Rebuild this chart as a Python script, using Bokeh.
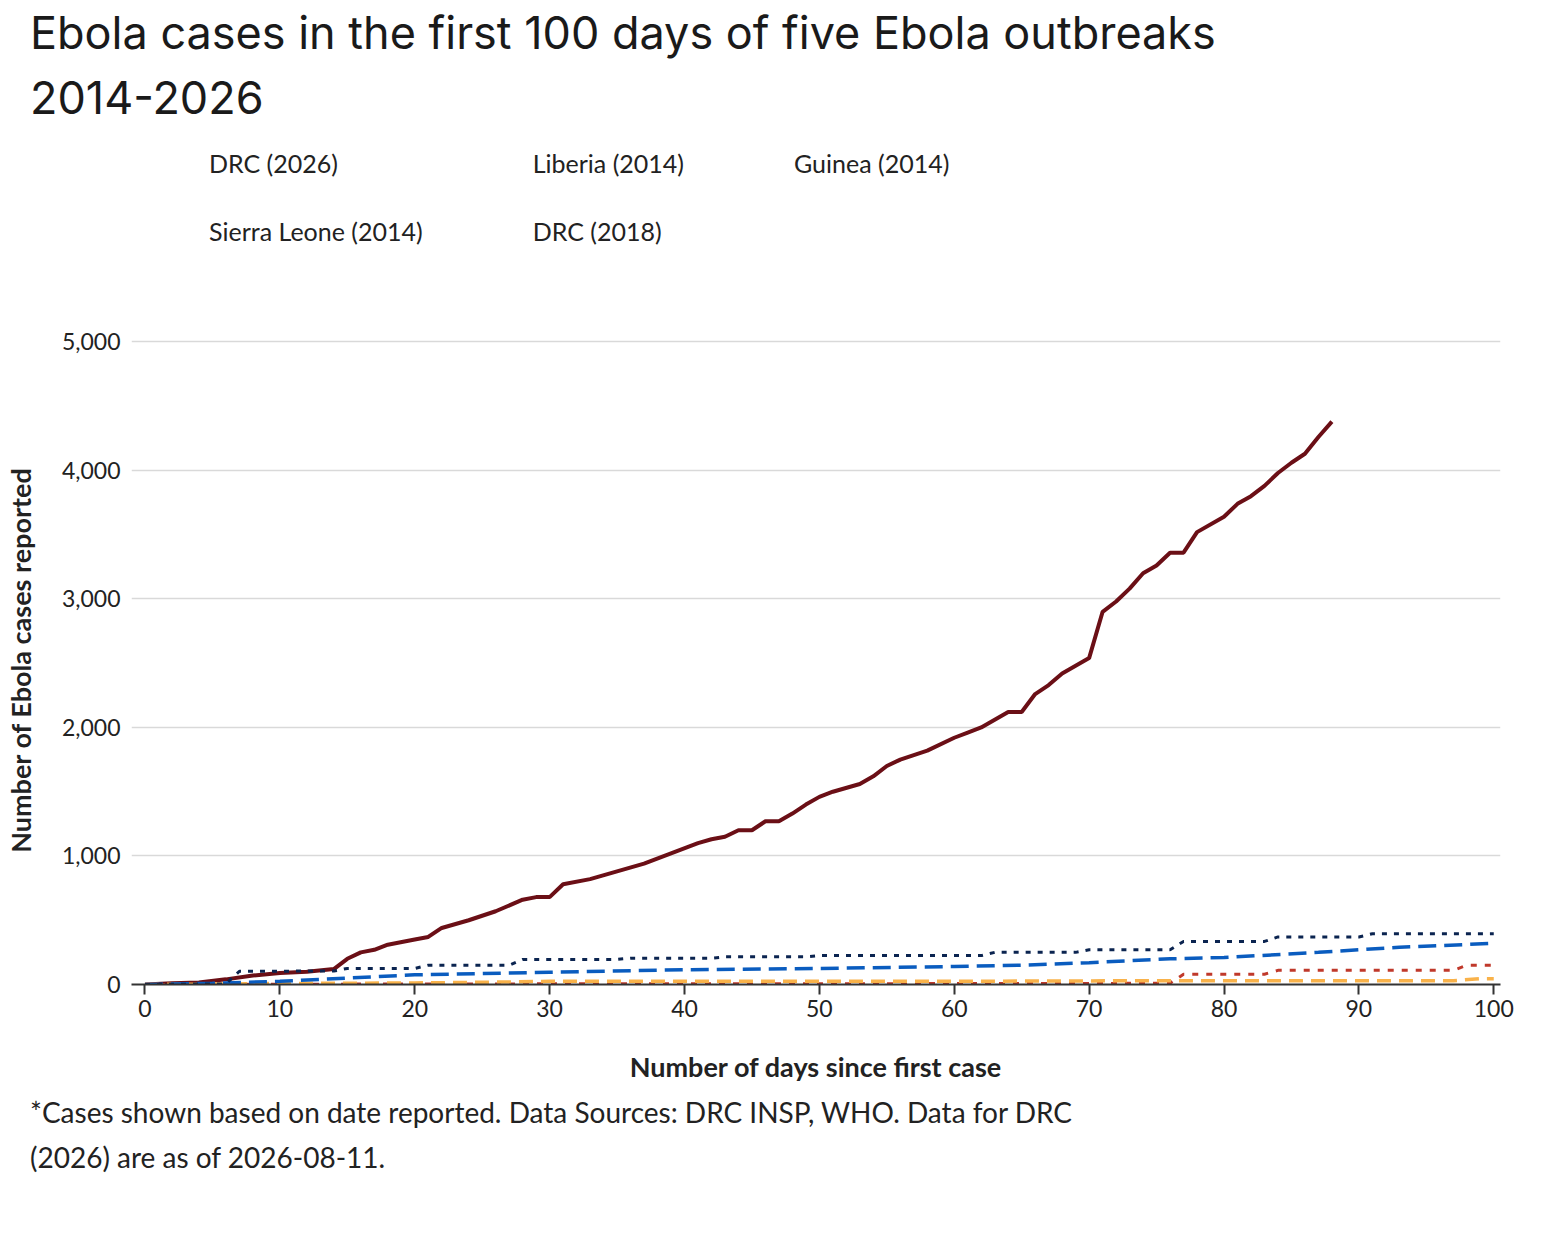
from bokeh.plotting import figure
from bokeh.models import Legend, LegendItem, NumeralTickFormatter, FixedTicker, Div
from bokeh.layouts import column
from bokeh.embed import file_html
from bokeh.resources import INLINE

drc26_days = [0,2,4,6,8,10,12,14,15,16,17,18,20,21,22,24,26,28,29,30,31,33,35,37,39,41,42,43,44,45,46,47,48,49,50,51,53,54,55,56,58,60,61,62,63,64,65,66,67,68,69,70,71,72,73,74,75,76,77,78,80,81,82,83,84,85,86,87,88]
drc26_cases = [0,10,15,40,70,90,100,120,200,250,270,310,350,370,440,500,570,660,680,680,780,820,880,940,1020,1100,1130,1150,1200,1200,1270,1270,1330,1400,1460,1500,1560,1620,1700,1750,1820,1920,1960,2000,2060,2120,2120,2260,2330,2420,2480,2540,2900,2980,3080,3200,3260,3360,3360,3520,3640,3740,3800,3880,3980,4060,4130,4260,4380]
sl_days = [0,10,20,30,40,50,60,70,76,77,83,84,97,98,100]
sl_cases = [0,2,4,5,6,6,7,8,10,80,80,110,110,150,150]
lib_days = [0,5,10,20,27,30,40,50,60,70,80,90,97,99,100]
lib_cases = [0,3,8,12,20,25,25,25,25,28,30,30,30,45,45]
drc18_days = [0,5,10,15,20,30,40,50,60,65,70,76,80,87,93,100]
drc18_cases = [0,10,25,50,75,95,115,125,140,150,170,200,210,250,290,320]
gui_days = [0,6,7,14,15,20,21,27,28,35,36,42,43,49,50,62,63,69,70,76,77,83,84,90,91,100]
gui_cases = [0,5,103,105,125,125,150,150,195,195,205,205,215,215,225,225,250,250,270,270,335,335,370,370,395,395]

series_labels = ["DRC (2026)", "Sierra Leone (2014)", "Liberia (2014)", "DRC (2018)", "Guinea (2014)"]
styles = [
    dict(line_color="#6b0f16", line_width=4),
    dict(line_color="#c0392b", line_width=3, line_dash="6 8"),
    dict(line_color="#f9b24a", line_width=3.5, line_dash="14 8"),
    dict(line_color="#0a5cbf", line_width=3.5, line_dash="18 8"),
    dict(line_color="#0b2450", line_width=3, line_dash="5 7"),
]
data = [(drc26_days, drc26_cases), (sl_days, sl_cases), (lib_days, lib_cases),
        (drc18_days, drc18_cases), (gui_days, gui_cases)]

FONT = "Lato"

title = Div(text="Ebola cases in the first 100 days of five Ebola outbreaks<br>2014-2026",
            width=1530, height=140,
            styles={"font-family": "Inter", "font-size": "45px", "color": "#1a1a1a",
                    "line-height": "1.45", "margin-left": "30px", "margin-top": "0px"})

# legend panel
lg = figure(width=1530, height=150, output_backend="svg", toolbar_location=None,
            x_range=(0, 1), y_range=(0, 1))
lg.axis.visible = False
lg.grid.visible = False
lg.outline_line_color = None
items = []
for lab, st in zip(series_labels, styles):
    r = lg.line([], [], **st)
    items.append(LegendItem(label=lab, renderers=[r]))
leg = Legend(items=items, ncols=4, location="top_left", border_line_color=None,
             label_text_font=FONT, label_text_font_size="25px", label_text_color="#222222",
             glyph_width=58, glyph_height=36, spacing=32, label_standoff=20, padding=0,
             margin=0, label_height=36)
leg.glyph_height = 36
lg.add_layout(leg, "center")
lg.min_border_left = 32
lg.min_border_top = 0

p = figure(width=1530, height=790, output_backend="svg", toolbar_location=None,
           x_range=(-1, 100.5), y_range=(0, 5050), min_border_left=30, min_border_right=30,
           min_border_top=40)
p.outline_line_color = None
for (xs, ys), st in zip(data, styles):
    p.line(xs, ys, **st)

p.xaxis.ticker = FixedTicker(ticks=list(range(0, 101, 10)))
p.yaxis.ticker = FixedTicker(ticks=list(range(0, 5001, 1000)))
p.yaxis.formatter = NumeralTickFormatter(format="0,0")
p.xgrid.grid_line_color = None
p.ygrid.grid_line_color = "#d9d9d9"
p.ygrid.grid_line_width = 1.5
p.yaxis.axis_line_color = None
p.yaxis.major_tick_line_color = None
p.yaxis.minor_tick_line_color = None
p.xaxis.minor_tick_line_color = None
p.xaxis.axis_line_color = "#333333"
p.xaxis.axis_line_width = 2
p.xaxis.major_tick_line_color = "#333333"
p.xaxis.major_tick_line_width = 2
p.xaxis.major_tick_out = 10
p.xaxis.major_tick_in = 0
for ax in (p.xaxis, p.yaxis):
    ax.major_label_text_font = FONT
    ax.major_label_text_font_size = "23px"
    ax.major_label_text_color = "#222222"
    ax.axis_label_text_font = FONT
    ax.axis_label_text_font_size = "27px"
    ax.axis_label_text_font_style = "bold"
    ax.axis_label_text_color = "#222222"
p.xaxis.axis_label = "Number of days since first case"
p.yaxis.axis_label = "Number of Ebola cases reported"
p.xaxis.axis_label_standoff = 30
p.yaxis.axis_label_standoff = 22

foot = Div(text="*Cases shown based on date reported. Data Sources: DRC INSP, WHO. Data for DRC<br>(2026) are as of 2026-08-11.",
           width=1530, height=110,
           styles={"font-family": FONT, "font-size": "28px", "color": "#222222",
                   "line-height": "1.6", "margin-left": "30px"})

layout = column(title, lg, p, foot, spacing=0)
open("out.html", "w").write(file_html(layout, INLINE))
